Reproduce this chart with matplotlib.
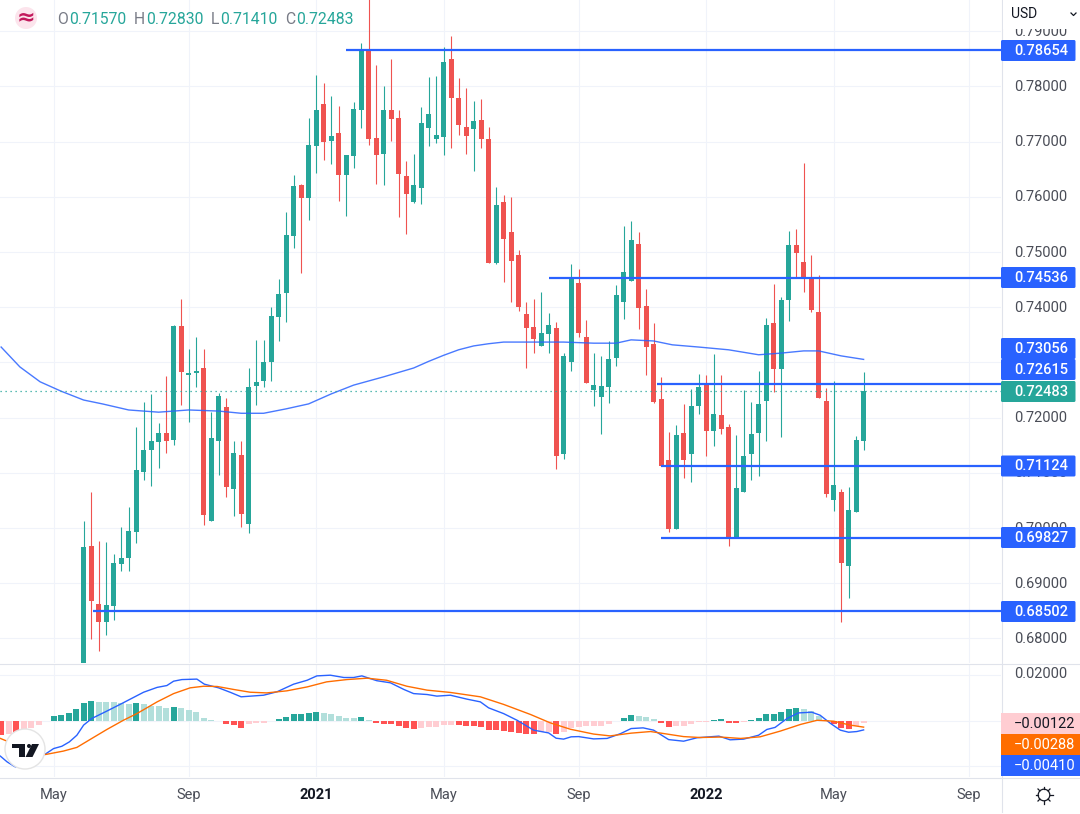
import numpy as np
import matplotlib
matplotlib.use("Agg")
import matplotlib.pyplot as plt
from matplotlib.patches import Rectangle, Circle, Polygon, FancyBboxPatch

plt.rcParams["font.family"] = ["Roboto", "DejaVu Sans"]

# weekly candles, oldest first
opens = [.6750,.6968,.6862,.6830,.6859,.6935,.6946,.6993,.7102,.7141,.7156,.7172,.7160,.7366,.7277,.7281,.7290,.7013,.7158,.7219,.7071,.7132,.7007,.7257,.7266,.7301,.7382,.7426,.7529,.7622,.7598,.7692,.7768,.7701,.7716,.7640,.7674,.7757,.7868,.7707,.7678,.7757,.7743,.7638,.7591,.7616,.7725,.7705,.7709,.7850,.7779,.7727,.7723,.7739,.7705,.7480,.7591,.7536,.7495,.7388,.7364,.7330,.7352,.7363,.7134,.7301,.7444,.7346,.7250,.7237,.7256,.7308,.7410,.7448,.7515,.7402,.7334,.7234,.7123,.6998,.7172,.7134,.7221,.7261,.7176,.7205,.7183,.6984,.7065,.7134,.7172,.7230,.7372,.7288,.7413,.7513,.7482,.7455,.7392,.7230,.7051,.7065,.6931,.7029,.7157]
highs = [.7013,.7065,.6977,.6975,.6953,.7002,.7038,.7183,.7228,.7243,.7190,.7276,.7368,.7415,.7324,.7346,.7324,.7210,.7245,.7236,.7158,.7158,.7290,.7341,.7341,.7401,.7451,.7573,.7640,.7623,.7743,.7821,.7806,.7783,.7765,.7676,.7772,.7879,.7975,.7839,.7801,.7850,.7757,.7665,.7678,.7763,.7817,.7819,.7872,.7891,.7815,.7797,.7774,.7777,.7727,.7618,.7603,.7600,.7504,.7410,.7415,.7428,.7390,.7373,.7317,.7478,.7469,.7377,.7317,.7312,.7339,.7440,.7547,.7556,.7536,.7433,.7372,.7274,.7174,.7187,.7225,.7252,.7279,.7277,.7315,.7277,.7189,.7169,.7250,.7228,.7285,.7381,.7442,.7419,.7538,.7542,.7661,.7495,.7459,.7254,.7266,.7071,.7075,.7167,.7283]
lows = [.6745,.6799,.6777,.6806,.6834,.6922,.6922,.6973,.7087,.7076,.7109,.7136,.7151,.7223,.7192,.7256,.7006,.7013,.7096,.7056,.7022,.7002,.6991,.7223,.7256,.7266,.7339,.7373,.7507,.7462,.7558,.7643,.7667,.7660,.7593,.7565,.7652,.7725,.7694,.7623,.7622,.7701,.7564,.7533,.7589,.7587,.7692,.7698,.7676,.7689,.7712,.7678,.7647,.7689,.7480,.7478,.7446,.7410,.7393,.7290,.7317,.7330,.7317,.7107,.7125,.7285,.7346,.7263,.7221,.7170,.7227,.7294,.7379,.7448,.7361,.7277,.7227,.7112,.6993,.6998,.7091,.7084,.7207,.7131,.7149,.7170,.6968,.6984,.7065,.7087,.7094,.7158,.7247,.7165,.7375,.7455,.7428,.7392,.7236,.7056,.7031,.6830,.6873,.7029,.7141]
closes = [.6966,.6868,.6830,.6861,.6937,.6946,.6995,.7105,.7141,.7158,.7172,.7158,.7366,.7283,.7281,.7285,.7024,.7163,.7239,.7075,.7136,.7026,.7256,.7265,.7301,.7384,.7424,.7531,.7620,.7598,.7694,.7757,.7699,.7710,.7640,.7676,.7759,.7866,.7705,.7676,.7757,.7741,.7641,.7605,.7622,.7734,.7750,.7712,.7844,.7779,.7730,.7710,.7737,.7705,.7480,.7585,.7524,.7484,.7401,.7363,.7343,.7353,.7368,.7131,.7312,.7455,.7353,.7263,.7259,.7257,.7306,.7422,.7464,.7522,.7399,.7328,.7228,.7112,.6998,.7169,.7123,.7221,.7256,.7176,.7207,.7180,.6982,.7073,.7131,.7170,.7225,.7368,.7288,.7413,.7513,.7498,.7453,.7395,.7236,.7062,.7078,.6937,.7033,.7160,.72483]

# moving average on the price pane
ma_idx = [-11,-8.5,-5.8,-3,0,2.5,6,10,14,18,21,24,27,30,33,36,40,44,46,48,50,52,54,56,60,64,68,71,73,76,78.5,82,86,90,93,96,98,101,104]
ma_val = [.7328,.7292,.7265,.7248,.7232,.7225,.7214,.7210,.7214,.7212,.7208,.7208,.7216,.7225,.7243,.7259,.7274,.7290,.7302,.7313,.7323,.7330,.7334,.7337,.7337,.7337,.7335,.7335,.7341,.7339,.7332,.7328,.7323,.7314,.7317,.7321,.7321,.7312,.73056]

# horizontal levels and the candle they start from
level_val = [.78654,.74536,.72615,.71124,.69827,.68502]
level_start = [35,62,76.4,77,77,1.2]
last_price = .72483

# macd pane
hist_start = -11
hist = [-.0064,-.0059,-.0074,-.0035,-.0034,-.0020,-.0003,.0019,.0023,.0032,.0049,.0075,.0084,.0081,.0080,.0079,.0075,.0073,.0074,.0071,.0065,.0062,.0054,.0058,.0054,.0045,.0036,.0010,.0002,-.0004,-.0017,-.0020,-.0033,-.0017,-.0013,-.0012,-.0003,.0006,.0015,.0028,.0029,.0032,.0036,.0032,.0028,.0019,.0010,.0009,.0015,.0002,-.0013,-.0014,-.0016,-.0025,-.0033,-.0038,-.0033,-.0029,-.0028,-.0020,-.0019,-.0021,-.0025,-.0026,-.0027,-.0042,-.0043,-.0046,-.0051,-.0055,-.0059,-.0060,-.0051,-.0050,-.0059,-.0051,-.0033,-.0029,-.0025,-.0024,-.0023,-.0016,-.0003,.0010,.0023,.0019,.0015,.0006,-.0012,-.0029,-.0025,-.0024,-.0016,-.0007,-.0006,.0002,.0006,-.0012,-.0013,-.0007,.0002,.0010,.0028,.0029,.0036,.0049,.0054,.0049,.0041,.0019,.0003,-.0016,-.0033,-.0038,-.0025,-.00122]

macd_idx = [-11.1,-10.2,-9.1,-5.1,-4,-2.9,-1.9,-.9,0,1.1,3.1,5.1,8,9.8,11.1,12,13.1,15.1,16.1,18,19.6,21,24,25.8,28,29.8,31.1,32.9,34.7,36,37.1,39.1,40.9,42.7,44,45.8,47.1,48.9,51.1,52.9,54,56,57.8,60,62,63,64,65,66,68,69.8,71.6,73,74.6,76,78,80,81.8,84.7,86.2,88,90,91.1,92.2,93.8,95.3,97.1,98.2,99.6,100.9,102,103.1,104]
macd_val = [-.0155,-.0180,-.0202,-.0146,-.0122,-.0112,-.0093,-.0064,-.0020,.0009,.0041,.0074,.0123,.0144,.0152,.0171,.0178,.0180,.0158,.0142,.0122,.0103,.0110,.0125,.0158,.0175,.0194,.0197,.0187,.0187,.0194,.0173,.0164,.0135,.0117,.0113,.0106,.0110,.0093,.0081,.0055,.0030,.0001,-.0042,-.0054,-.0077,-.0081,-.0071,-.0070,-.0080,-.0078,-.0057,-.0035,-.0032,-.0042,-.0083,-.0090,-.0075,-.0068,-.0084,-.0081,-.0064,-.0039,-.0030,.0009,.0033,.0036,.0023,-.0013,-.0042,-.0051,-.0048,-.0041]
signal_idx = [-11.1,-10.2,-5.1,-2.7,-.9,1.3,3.1,5.3,7.1,9.8,12,14.2,16,17.8,20,22.2,24.4,27.1,29.8,32.4,35.1,37.8,40.4,43.1,45.8,48.9,52.9,56,59.6,62.2,64.9,68,70.2,73,75.6,77.8,80,82.2,84.9,87.6,90.2,92.9,95.6,97.8,100,102.2,104]
signal_val = [-.0078,-.0090,-.0148,-.0133,-.0117,-.0074,-.0039,.0001,.0030,.0081,.0117,.0142,.0149,.0148,.0135,.0123,.0120,.0129,.0146,.0168,.0178,.0184,.0175,.0149,.0132,.0122,.0103,.0070,.0026,-.0010,-.0038,-.0059,-.0067,-.0055,-.0048,-.0059,-.0070,-.0074,-.0072,-.0078,-.0071,-.0046,-.0017,.0001,-.0003,-.0020,-.00288]

price_ticks = [.68,.69,.70,.71,.72,.73,.74,.75,.76,.77,.78,.79]
macd_ticks = [-.02,0,.02]
time_idx = [-4,14,31,48,66,83,100,118]
time_labels = ["May","Sep","2021","May","Sep","2022","May","Sep"]

GREEN = "#26A69A"
RED = "#EF5350"
BLUE = "#2962FF"
ORANGE = "#FF6D00"
GRID = "#F0F3FA"
BORDER = "#E0E3EB"
TEXT = "#4A4D57"

W, H = 1080, 814
fig = plt.figure(figsize=(W / 100, H / 100), dpi=100)

ax = fig.add_axes([0, 1 - 663 / H, 1001 / W, 663 / H])
ax2 = fig.add_axes([0, 1 - 777 / H, 1001 / W, 113 / H])
top = fig.add_axes([0, 0, 1, 1], zorder=10)
top.set_xlim(0, W)
top.set_ylim(H, 0)
top.axis("off")

x0, x1 = -11.15, 122.32
for a in (ax, ax2):
    a.set_xlim(x0, x1)
    a.set_xticks(time_idx)
    a.tick_params(left=False, bottom=False, labelleft=False, labelbottom=False)
    a.grid(True, color=GRID, linewidth=0.8)
    a.set_axisbelow(True)
    for s in a.spines.values():
        s.set_visible(False)
ax.set_ylim(.67556, .79567)
ax.set_yticks(price_ticks)
ax2.set_ylim(-.02457, .02457)
ax2.set_yticks(macd_ticks)

# candles
idx = np.arange(len(opens))
o = np.array(opens)
c = np.array(closes)
colors = [GREEN if c[i] >= o[i] else RED for i in idx]
ax.vlines(idx, lows, highs, colors=colors, linewidth=0.8, zorder=3)
ax.bar(idx, np.abs(c - o), bottom=np.minimum(o, c), width=0.67, color=colors, linewidth=0, zorder=4)

ax.plot(ma_idx, ma_val, color=BLUE, linewidth=1.0, alpha=0.85, zorder=5)
ax.axhline(last_price, color=GREEN, linewidth=0.9, linestyle=(0, (1, 3)), zorder=5)
for v, s in zip(level_val, level_start):
    ax.plot([s, x1], [v, v], color=BLUE, linewidth=1.6, solid_capstyle="butt", zorder=6)

# macd histogram, shade depends on direction
hist_idx = np.arange(len(hist)) + hist_start
hist_colors = []
for i, h in enumerate(hist):
    prev = hist[i - 1] if i > 0 else h
    if h >= 0:
        hist_colors.append(GREEN if h > prev else "#B2DFDB")
    else:
        hist_colors.append("#FF5252" if h <= prev else "#FFCDD2")
ax2.bar(hist_idx, hist, width=0.8, color=hist_colors, linewidth=0, zorder=3)
ax2.plot(macd_idx, macd_val, color=BLUE, linewidth=1.0, zorder=4)
ax2.plot(signal_idx, signal_val, color=ORANGE, linewidth=1.0, zorder=4)

# pane borders
top.plot([0, W], [663.5, 663.5], color=BORDER, linewidth=0.8)
top.plot([0, W], [777.5, 777.5], color=BORDER, linewidth=0.8)
top.plot([1001.5, 1001.5], [0, 812], color=BORDER, linewidth=0.8)

# price scale
py = lambda v: 663 * (.79567 - v) / (.79567 - .67556)
for v in price_ticks:
    top.text(1014, py(v) + 0.5, "%.5f" % v, fontsize=10.5, color=TEXT, ha="left", va="center")
top.text(1014, 674.5, "0.02000", fontsize=10.5, color=TEXT, ha="left", va="center")
top.add_patch(Rectangle((1003, 0), 77, 28.5, facecolor="white", edgecolor="none", zorder=3))
top.text(1011, 14, "USD", fontsize=10, color="#131722", ha="left", va="center", zorder=4)
top.plot([1071, 1073.5, 1076], [13, 15.5, 13], color="#131722", linewidth=0.9, zorder=4)

labels = [("0.78654", 50.5, BLUE), ("0.74536", 277.5, BLUE), ("0.73056", 348.5, BLUE),
          ("0.72615", 369.5, BLUE), ("0.72483", 391.5, GREEN), ("0.71124", 466, BLUE),
          ("0.69827", 537.5, BLUE), ("0.68502", 611.5, BLUE)]
for txt, y, col in labels:
    top.add_patch(FancyBboxPatch((1002, y - 9.5), 72.5, 19, boxstyle="round,pad=1,rounding_size=1.5",
                                 facecolor=col, edgecolor="none", zorder=5))
    top.text(1014, y + 0.5, txt, fontsize=10.5, color="white", fontweight="medium", ha="left", va="center", zorder=6)

macd_labels = [("\u22120.00122", 723.5, "#FFCDD2", "#131722"), ("\u22120.00288", 744.5, ORANGE, "white"),
               ("\u22120.00410", 765.5, BLUE, "white")]
for txt, y, col, tc in macd_labels:
    top.add_patch(Rectangle((1001, y - 10.5), 79, 21, facecolor=col, edgecolor="none", zorder=5))
    top.text(1014, y + 0.5, txt, fontsize=10.5, color=tc, ha="left", va="center", zorder=6)

# time scale
for i, lab in zip(time_idx, time_labels):
    bold = lab in ("2021", "2022")
    top.text(83.5 + 7.5 * i, 795, lab, fontsize=10.5, ha="center", va="center",
             color="#131722" if bold else TEXT, fontweight="bold" if bold else "normal")

# header legend
top.add_patch(Circle((26, 18), 11, facecolor="#FCE4EC", edgecolor="none"))
top.text(26, 17.5, "\u2248", fontsize=16, color="#C2185B", ha="center", va="center", family="DejaVu Sans", fontweight="bold")
legend = [("O", 57, "0.71570", 69), ("H", 134, "0.72830", 146), ("L", 211, "0.71410", 220), ("C", 285, "0.72483", 296)]
for k, kx, val, vx in legend:
    top.text(kx, 19, k, fontsize=11.3, color="#787B86", ha="left", va="center")
    top.text(vx, 19, val, fontsize=11.3, color=GREEN, ha="left", va="center")

# logo
top.add_patch(Circle((25, 749), 20, facecolor="white", edgecolor="#E4E4E4", linewidth=1, zorder=6))
top.add_patch(Polygon([(12.3, 744), (25, 744), (25, 757), (18.5, 757), (18.5, 748), (12.3, 748)], facecolor="#131722", zorder=7))
top.add_patch(Circle((29, 746), 2, facecolor="#131722", zorder=7))
top.add_patch(Polygon([(32, 744), (39, 744), (32.5, 757), (25.5, 757)], facecolor="#131722", zorder=7))

# settings gear
top.add_patch(Circle((1044, 795), 5.8, facecolor="white", edgecolor="#131722", linewidth=0.9))
for ang in np.arange(0, 360, 45):
    r = np.radians(ang)
    top.plot([1044 + 5.8 * np.cos(r), 1044 + 8.5 * np.cos(r)], [795 + 5.8 * np.sin(r), 795 + 8.5 * np.sin(r)],
             color="#131722", linewidth=0.9)

fig.savefig("out.png", dpi=100)
